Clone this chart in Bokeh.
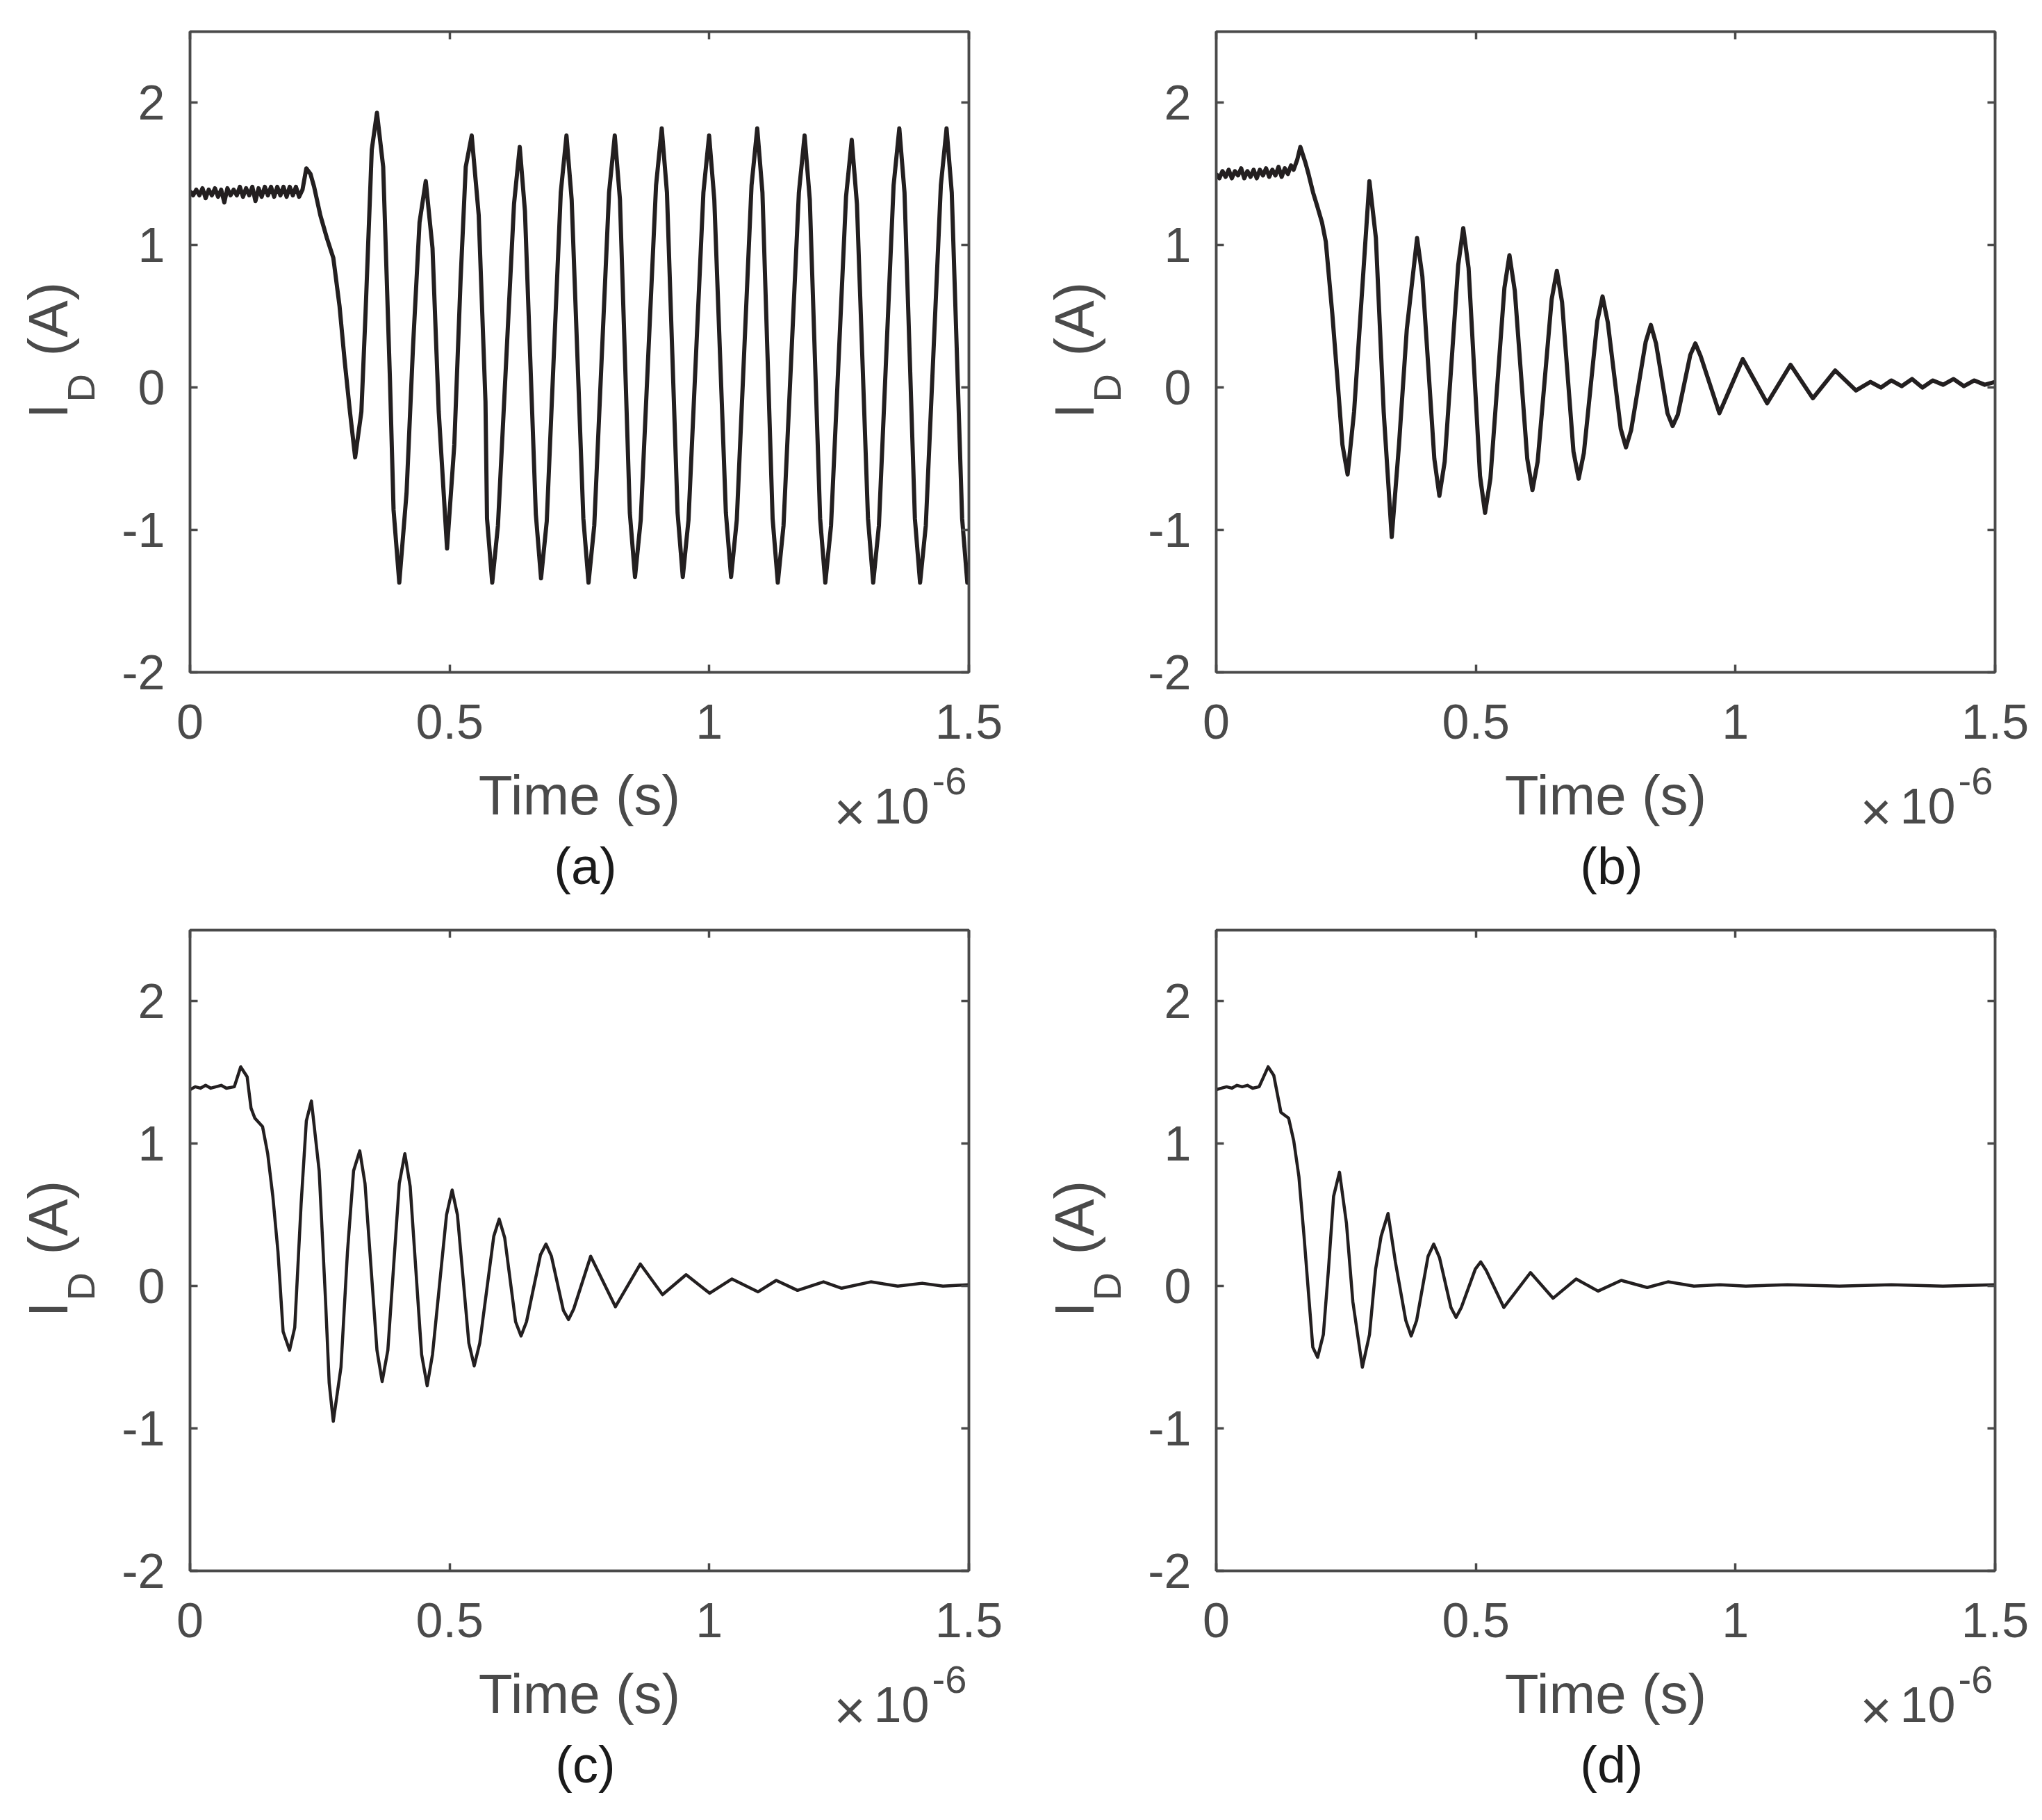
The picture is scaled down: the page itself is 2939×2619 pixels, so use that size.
import math
from bokeh.plotting import figure
from bokeh.models import Range1d, FixedTicker, LinearAxis, Label
from bokeh.layouts import gridplot
from bokeh.embed import file_html
from bokeh.resources import INLINE

# ---------------- data (time in units of 1e-6 s, current in A) ----------------
a_time = [0.000, 0.006, 0.012, 0.018, 0.024, 0.030, 0.036, 0.042, 0.048, 0.054,
          0.060, 0.066, 0.072, 0.078, 0.084, 0.090, 0.096, 0.102, 0.108, 0.114,
          0.120, 0.126, 0.132, 0.138, 0.144, 0.150, 0.156, 0.162, 0.168, 0.174,
          0.180, 0.186, 0.192, 0.198, 0.204, 0.210, 0.2166,
          0.224, 0.232, 0.239, 0.251, 0.2636, 0.276, 0.288, 0.298, 0.308, 0.318,
          0.330, 0.338, 0.350, 0.360, 0.372, 0.385, 0.392, 0.403, 0.417, 0.4295,
          0.442, 0.454, 0.467, 0.479, 0.495, 0.509, 0.521, 0.531, 0.5425, 0.556,
          0.569,
          0.572, 0.582, 0.593, 0.624, 0.635, 0.645, 0.666, 0.676, 0.687,
          0.714, 0.725, 0.735, 0.7575, 0.7675, 0.7785, 0.807, 0.818, 0.828,
          0.847, 0.857, 0.868, 0.8975, 0.9085, 0.9185, 0.939, 0.949, 0.960,
          0.9887, 0.9997, 1.0097, 1.032, 1.042, 1.053, 1.0814, 1.0924, 1.1024,
          1.122, 1.132, 1.143, 1.1726, 1.1836, 1.1936, 1.2135, 1.2235, 1.2345,
          1.2634, 1.2744, 1.2844, 1.3057, 1.3157, 1.3267, 1.355, 1.366, 1.376,
          1.396, 1.406, 1.417, 1.446, 1.457, 1.467, 1.487, 1.497, 1.500]
a_current = [1.38, 1.35, 1.39, 1.35, 1.40, 1.33, 1.39, 1.35, 1.40, 1.34,
             1.39, 1.30, 1.40, 1.35, 1.39, 1.35, 1.41, 1.34, 1.40, 1.35,
             1.41, 1.31, 1.40, 1.34, 1.41, 1.35, 1.41, 1.34, 1.41, 1.35,
             1.41, 1.34, 1.41, 1.35, 1.41, 1.34, 1.39,
             1.54, 1.50, 1.41, 1.21, 1.05, 0.91, 0.57, 0.18, -0.17, -0.49,
             -0.17, 0.52, 1.67, 1.93, 1.55, 0.06, -0.86, -1.37, -0.74, 0.29,
             1.16, 1.45, 0.98, -0.17, -1.13, -0.40, 0.75, 1.55, 1.77, 1.21,
             -0.10,
             -0.92, -1.37, -0.97, 1.29, 1.69, 1.24, -0.89, -1.34, -0.94,
             1.37, 1.77, 1.32, -0.92, -1.37, -0.97, 1.37, 1.77, 1.32,
             -0.88, -1.33, -0.93, 1.42, 1.82, 1.37, -0.88, -1.33, -0.93,
             1.37, 1.77, 1.32, -0.88, -1.33, -0.93, 1.42, 1.82, 1.37,
             -0.92, -1.37, -0.97, 1.37, 1.77, 1.32, -0.92, -1.37, -0.97,
             1.34, 1.74, 1.29, -0.92, -1.37, -0.97, 1.42, 1.82, 1.37,
             -0.92, -1.37, -0.97, 1.42, 1.82, 1.37, -0.92, -1.37, -1.30]

b_time = [0.000, 0.006, 0.012, 0.018, 0.024, 0.030, 0.036, 0.042, 0.048, 0.054,
          0.060, 0.066, 0.072, 0.078, 0.084, 0.090, 0.096, 0.102, 0.108, 0.114,
          0.120, 0.126, 0.132, 0.138, 0.144, 0.149,
          0.156, 0.162, 0.1717, 0.177, 0.1865, 0.194, 0.2037, 0.211, 0.2235, 0.2334,
          0.243, 0.253, 0.2655, 0.278, 0.295, 0.3075, 0.3225, 0.338, 0.352, 0.367,
          0.3868, 0.397, 0.420, 0.4297, 0.440, 0.466, 0.4757, 0.486,
          0.508, 0.5177, 0.528, 0.555, 0.5647, 0.575, 0.599, 0.609, 0.619,
          0.646, 0.656, 0.666, 0.688, 0.698, 0.708, 0.734, 0.744, 0.754,
          0.779, 0.789, 0.799, 0.827, 0.837, 0.847, 0.869, 0.879, 0.889,
          0.913, 0.9227, 0.933, 0.969, 1.014, 1.061, 1.106, 1.149, 1.192, 1.232,
          1.26, 1.28, 1.30, 1.32, 1.34, 1.36, 1.38, 1.40, 1.42, 1.44, 1.46, 1.48, 1.50]
b_current = [1.50, 1.47, 1.52, 1.48, 1.53, 1.47, 1.52, 1.49, 1.54, 1.47,
             1.52, 1.48, 1.53, 1.47, 1.53, 1.49, 1.54, 1.48, 1.53, 1.49,
             1.55, 1.48, 1.54, 1.50, 1.56, 1.53,
             1.60, 1.69, 1.58, 1.51, 1.37, 1.28, 1.16, 1.025, 0.52, 0.06,
             -0.40, -0.61, -0.17, 0.52, 1.45, 1.05, -0.17, -1.05, -0.40, 0.41,
             1.05, 0.78, -0.50, -0.76, -0.52, 0.86, 1.12, 0.84,
             -0.62, -0.88, -0.64, 0.70, 0.93, 0.68, -0.50, -0.72, -0.52,
             0.62, 0.82, 0.60, -0.45, -0.64, -0.46, 0.47, 0.64, 0.46,
             -0.29, -0.42, -0.30, 0.32, 0.44, 0.31, -0.18, -0.27, -0.19,
             0.23, 0.31, 0.22, -0.18, 0.20, -0.11, 0.16, -0.075, 0.12, -0.02,
             0.04, 0.00, 0.05, 0.01, 0.06, 0.00, 0.05, 0.02, 0.06, 0.01, 0.05, 0.02, 0.04]

c_time = [0.000, 0.010, 0.020, 0.030, 0.040, 0.050, 0.060, 0.070, 0.0853,
          0.0976, 0.110, 0.1175, 0.1248, 0.1397, 0.1496, 0.1595, 0.1694, 0.1793,
          0.1917, 0.2017, 0.214, 0.224, 0.2338, 0.2487, 0.2611, 0.268, 0.2759,
          0.2907, 0.3032, 0.315, 0.3269, 0.337, 0.360, 0.370, 0.381,
          0.403, 0.4137, 0.424, 0.446, 0.4567, 0.467, 0.494, 0.5048, 0.515,
          0.537, 0.5473, 0.558, 0.585, 0.5954, 0.606, 0.627, 0.6375, 0.648,
          0.675, 0.6855, 0.696, 0.719, 0.729, 0.739,
          0.7716, 0.8193, 0.8673, 0.910, 0.9554,
          1.0008, 1.0437, 1.094, 1.129, 1.17, 1.22, 1.255, 1.311, 1.363, 1.41,
          1.45, 1.50]
c_current = [1.38, 1.40, 1.39, 1.41, 1.39, 1.40, 1.41, 1.39, 1.40,
             1.54, 1.47, 1.25, 1.18, 1.12, 0.93, 0.63, 0.24, -0.32,
             -0.45, -0.29, 0.58, 1.16, 1.30, 0.81, -0.11, -0.68, -0.95,
             -0.57, 0.24, 0.81, 0.95, 0.72, -0.45, -0.67, -0.45,
             0.72, 0.93, 0.70, -0.48, -0.70, -0.48, 0.50, 0.675, 0.50,
             -0.40, -0.56, -0.40, 0.35, 0.47, 0.34, -0.25, -0.35, -0.25,
             0.22, 0.295, 0.21, -0.17, -0.235, -0.16,
             0.21, -0.145, 0.155, -0.06, 0.08,
             -0.05, 0.05, -0.04, 0.04, -0.03, 0.03, -0.015, 0.03, 0.00, 0.02,
             0.00, 0.01]

d_time = [0.000, 0.010, 0.020, 0.030, 0.040, 0.050, 0.060, 0.070, 0.0826,
          0.100, 0.1108, 0.1246, 0.1394, 0.1493, 0.1592, 0.1691, 0.179, 0.186,
          0.1953, 0.2063, 0.2162, 0.226, 0.2374, 0.2508, 0.2631, 0.2814, 0.2952,
          0.307, 0.3175, 0.3309, 0.345, 0.365, 0.3754, 0.386, 0.408, 0.4189, 0.430,
          0.452, 0.4619, 0.472, 0.499, 0.5094, 0.520, 0.5539,
          0.6052, 0.6488, 0.6932, 0.7353, 0.78, 0.83, 0.87, 0.92, 0.97, 1.02,
          1.10, 1.20, 1.30, 1.40, 1.50]
d_current = [1.38, 1.39, 1.40, 1.39, 1.41, 1.40, 1.41, 1.39, 1.40,
             1.54, 1.48, 1.22, 1.18, 1.02, 0.77, 0.35, -0.11, -0.43,
             -0.50, -0.34, 0.12, 0.63, 0.80, 0.44, -0.11, -0.57, -0.34,
             0.12, 0.35, 0.51, 0.17, -0.24, -0.35, -0.24, 0.21, 0.295, 0.20,
             -0.15, -0.22, -0.15, 0.12, 0.17, 0.11, -0.15,
             0.095, -0.085, 0.05, -0.035, 0.04, -0.01, 0.03, 0.00, 0.01, 0.00,
             0.01, 0.00, 0.01, 0.00, 0.01]

x_ticks = [0, 0.5, 1, 1.5]
x_tick_labels = ["0", "0.5", "1", "1.5"]
y_ticks = [-2, -1, 0, 1, 2]
y_tick_labels = ["-2", "-1", "0", "1", "2"]
panel_tags = ["(a)", "(b)", "(c)", "(d)"]
x_title = "Time (s)"
x_scale_times = "\u00d7"
x_scale_base = "10"
x_scale_exp = "-6"

# ---------------- styling / layout ----------------
FONT = "Liberation Sans"
GRAY = "#4a4a4a"
INK = "#231f20"
FRAME_W, FRAME_H = 1121, 922
MAIN_LEFT = 110          # border holding y tick labels
MAIN_BOTTOM = 130        # border holding x tick labels
YLAB_W = 163             # strip holding the rotated y label
STRIP_H = 204            # strip under each panel (x title, multiplier, caption)
RIGHT_A, RIGHT_B = 83, 50
STRIP_DY = 28            # vertical correction for texts in the bottom strips


def style_axis(ax, ticks, labels, show_labels):
    ax.ticker = FixedTicker(ticks=ticks)
    ax.axis_line_color = GRAY
    ax.axis_line_width = 3.5
    ax.major_tick_line_color = GRAY
    ax.major_tick_line_width = 3.5
    ax.major_tick_in = 11
    ax.major_tick_out = 0
    ax.minor_tick_line_color = None
    ax.major_label_text_font = FONT
    if show_labels:
        ax.major_label_overrides = {t: l for t, l in zip(ticks, labels)}
        ax.major_label_text_color = GRAY
        ax.major_label_text_font_size = "70px"
    else:
        ax.major_label_text_color = None
        ax.major_label_text_font_size = "1px"
        ax.major_label_standoff = 0


def make_panel(t, v, lw, right, top):
    p = figure(frame_width=FRAME_W, frame_height=FRAME_H,
               x_range=Range1d(0, 1.5), y_range=Range1d(-2, 2.5),
               output_backend="svg", toolbar_location=None,
               min_border_left=MAIN_LEFT, min_border_right=right,
               min_border_top=top, min_border_bottom=MAIN_BOTTOM)
    p.grid.visible = False
    p.background_fill_color = "white"
    p.border_fill_color = "white"
    p.outline_line_color = GRAY
    p.outline_line_width = 3.5

    style_axis(p.xaxis[0], x_ticks, x_tick_labels, True)
    style_axis(p.yaxis[0], y_ticks, y_tick_labels, True)
    p.xaxis[0].major_label_standoff = 46
    p.yaxis[0].major_label_standoff = 36

    top_ax = LinearAxis()
    style_axis(top_ax, x_ticks, x_tick_labels, False)
    p.add_layout(top_ax, "above")
    rgt_ax = LinearAxis()
    style_axis(rgt_ax, y_ticks, y_tick_labels, False)
    p.add_layout(rgt_ax, "right")

    p.line(t, v, line_color=INK, line_width=lw, line_join="round")
    return p


def strip(fw, fh, left=0, right=0, top=0, bottom=0):
    s = figure(title=None, frame_width=fw, frame_height=fh,
               x_range=Range1d(0, fw), y_range=Range1d(0, fh),
               x_axis_type=None, y_axis_type=None, output_backend="svg",
               toolbar_location=None, min_border=0,
               min_border_left=left, min_border_right=right,
               min_border_top=top, min_border_bottom=bottom)
    s.outline_line_color = None
    s.background_fill_color = "white"
    s.border_fill_color = "white"
    return s


def text(s, x, y, txt, size, color, align="left", angle=0.0, baseline="alphabetic"):
    s.add_layout(Label(x=x, y=y, text=txt, text_font=FONT, text_font_size=f"{size}px",
                       text_color=color, text_align=align, text_baseline=baseline,
                       angle=angle))


def ylabel_strip(top):
    # frame lines up with the panel frame in the same row; the rotated texts are
    # anchored at their top edge (left side on screen)
    s = strip(YLAB_W, FRAME_H, top=top, bottom=MAIN_BOTTOM)
    half_pi = math.pi / 2
    text(s, 24.6, 365, "I", 80, GRAY, angle=half_pi, baseline="top")
    text(s, 84.3, 389, "D", 56, GRAY, angle=half_pi, baseline="top")
    text(s, 24.6, 455, "(A)", 80, GRAY, angle=half_pi, baseline="top")
    return s


def bottom_strip(right, tag):
    # frame lines up with the panel frame in the same column
    s = strip(FRAME_W, STRIP_H, left=MAIN_LEFT, right=right)
    dy = STRIP_DY
    text(s, 560.5, 129 + dy, x_title, 80, GRAY, align="center")
    text(s, 949.5, 106 + dy, x_scale_times, 78, GRAY, align="center")
    text(s, 1064, 114 + dy, x_scale_base, 72, GRAY, align="right")
    text(s, 1068, 150 + dy, x_scale_exp, 56, GRAY, align="left")
    text(s, 569, 27 + dy, tag, 74, "#1a1a1a", align="center")
    return s


pa = make_panel(a_time, a_current, 6.0, RIGHT_A, 45)
pb = make_panel(b_time, b_current, 6.0, RIGHT_B, 45)
pc = make_panel(c_time, c_current, 4.5, RIGHT_A, 37)
pd = make_panel(d_time, d_current, 4.5, RIGHT_B, 37)

rows = [
    [ylabel_strip(45), pa, ylabel_strip(45), pb],
    [None, bottom_strip(RIGHT_A, panel_tags[0]), None, bottom_strip(RIGHT_B, panel_tags[1])],
    [ylabel_strip(37), pc, ylabel_strip(37), pd],
    [None, bottom_strip(RIGHT_A, panel_tags[2]), None, bottom_strip(RIGHT_B, panel_tags[3])],
]

grid = gridplot(rows, toolbar_location=None)

open("out.html", "w").write(file_html(grid, INLINE))
